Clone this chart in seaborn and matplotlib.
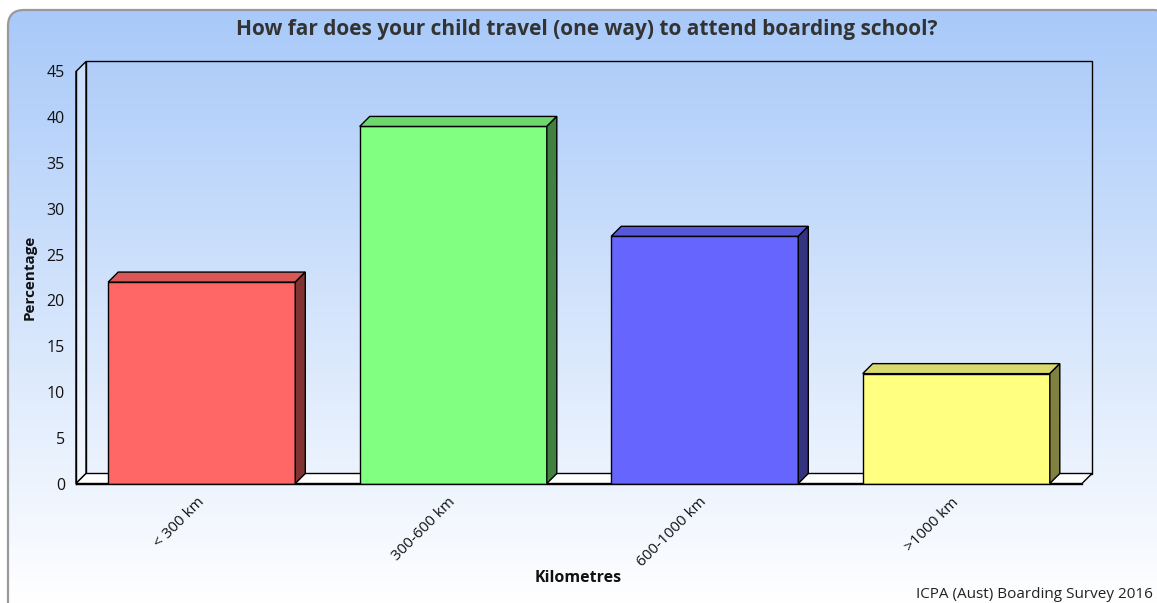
import numpy as np
import seaborn as sns
import matplotlib.pyplot as plt
from matplotlib.patches import FancyBboxPatch, Polygon, Rectangle
from matplotlib.colors import to_rgb

# data
categories = ["< 300 km", "300-600 km", "600-1000 km", ">1000 km"]
values = [22, 39, 27, 12]
bar_colors = ["#ff6666", "#80ff80", "#6666ff", "#ffff80"]
y_ticks = [0, 5, 10, 15, 20, 25, 30, 35, 40, 45]

title = "How far does your child travel (one way) to attend boarding school?"
x_title = "Kilometres"
y_title = "Percentage"
source = "ICPA (Aust) Boarding Survey 2016"

sns.set_style("white")
plt.rcParams['font.family'] = ['Open Sans', 'DejaVu Sans']

W, H = 1157, 603
fig = plt.figure(figsize=(W / 100, H / 100), dpi=100)
fig.patch.set_facecolor("white")

# background: rounded frame (running off the right/bottom edge) with blue->white gradient
bg = fig.add_axes([0, 0, 1, 1], zorder=-5)
bg.set_xlim(0, W)
bg.set_ylim(H, 0)
bg.axis("off")
frame = FancyBboxPatch((8, 10), 1161, 640, boxstyle="round,pad=0,rounding_size=16",
                       facecolor="none", edgecolor="#9a9a9a", lw=1.6)
bg.add_patch(frame)
top_c = np.array(to_rgb("#a8c9f9"))
bot_c = np.array([1.0, 1.0, 1.0])
t = np.linspace(0, 1, 256)[:, None]
grad = (top_c * (1 - t) + bot_c * t)[:, None, :]
img = bg.imshow(grad, extent=(8, 1169, 604, 10), aspect="auto", zorder=0)
img.set_clip_path(frame)

# plot area (front face of the 3d box)
L, R, T, B = 76, 1082, 71.5, 483.5
ax = fig.add_axes([L / W, 1 - B / H, (R - L) / W, (B - T) / H])
ax.set_facecolor("none")

sns.barplot(x=categories, y=values, hue=categories, palette=bar_colors,
            width=0.744, saturation=1, edgecolor="black", linewidth=1,
            legend=False, ax=ax, zorder=3)

ax.set_xlim(-0.5, 3.5)
ax.set_ylim(0, 45)
ax.set_yticks(y_ticks)

# depth offset of the 3d effect: 10 px right and up, in data units
depth = 10
dx = depth * 4 / (R - L)
dy = depth * 45 / (B - T)

# back wall, left wall and floor
ax.add_patch(Rectangle((-0.5 + dx, dy), 4, 45, facecolor="none", edgecolor="black",
                       lw=1, clip_on=False, zorder=1))
ax.add_patch(Polygon([(-0.5, 0), (-0.5 + dx, dy), (-0.5 + dx, 45 + dy), (-0.5, 45)],
                     closed=True, facecolor=(1, 1, 1, 0.35), edgecolor="black",
                     lw=1, clip_on=False, zorder=1))
ax.add_patch(Polygon([(-0.5, 0), (3.5, 0), (3.5 + dx, dy), (-0.5 + dx, dy)],
                     closed=True, facecolor="white", edgecolor="black",
                     lw=1, clip_on=False, zorder=2))

# top and side faces of each bar
for p, col in zip(ax.patches[:len(values)], bar_colors):
    x0, w, h = p.get_x(), p.get_width(), p.get_height()
    c = np.array(to_rgb(col))
    ax.add_patch(Polygon([(x0, h), (x0 + w, h), (x0 + w + dx, h + dy), (x0 + dx, h + dy)],
                         closed=True, facecolor=c * 0.85, edgecolor="black", lw=1,
                         clip_on=False, zorder=4))
    ax.add_patch(Polygon([(x0 + w, 0), (x0 + w + dx, dy), (x0 + w + dx, h + dy), (x0 + w, h)],
                         closed=True, facecolor=c * 0.5, edgecolor="black", lw=1,
                         clip_on=False, zorder=4))

for s in ["top", "right"]:
    ax.spines[s].set_visible(False)
for s in ["left", "bottom"]:
    ax.spines[s].set_color("black")
    ax.spines[s].set_linewidth(1)
    ax.spines[s].set_zorder(5)

ax.tick_params(axis="y", length=0, pad=8, labelsize=11.5, labelcolor="#111111")
ax.tick_params(axis="x", length=0, pad=12, labelsize=11, labelcolor="#111111")
plt.setp(ax.get_xticklabels(), rotation=45, ha="right", va="center", rotation_mode="anchor")

ax.set_xlabel(x_title, fontsize=11.5, fontweight="bold", color="#111111")
ax.xaxis.set_label_coords(578 / W, 1 - 570 / H, transform=fig.transFigure)
ax.set_ylabel(y_title, fontsize=11, fontweight="bold", color="#111111")
ax.yaxis.set_label_coords(37 / W, 1 - 277 / H, transform=fig.transFigure)

fig.text(587 / W, 1 - 30 / H, title, ha="center", va="center", fontsize=15,
         fontweight="bold", color="#333333")
fig.text(1153 / W, 1 - 594 / H, source, ha="right", va="center", fontsize=11,
         color="#222222")

fig.savefig("out.png", dpi=100)
